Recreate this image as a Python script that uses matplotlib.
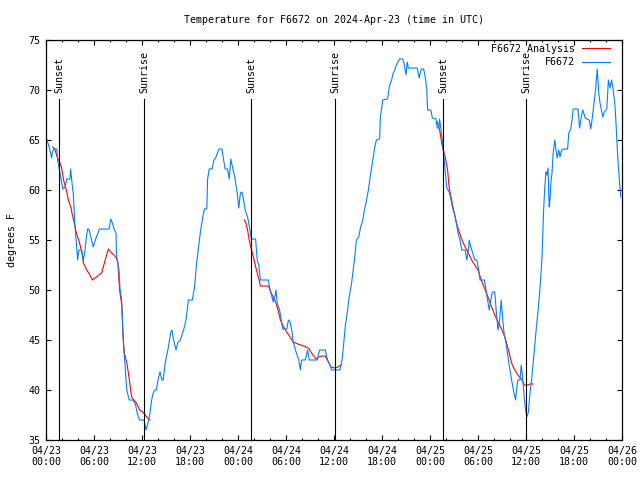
import matplotlib
matplotlib.use("Agg")
import matplotlib.pyplot as plt
from matplotlib.ticker import MultipleLocator

plt.rcParams['font.family'] = ['DejaVu Sans Mono']

# ---- data (hours since 2024-04-23 00:00 UTC, degrees F) ----
obs_hours = [0.08, 0.4, 0.7, 0.8, 1.0, 1.35, 1.45, 1.75, 1.96, 2.1, 2.4, 2.6, 3.0, 3.08, 3.25, 3.4, 3.5, 3.6,
             3.7, 3.8, 3.96, 4.1, 4.45, 4.67, 4.85, 5.0, 5.2, 5.35, 5.7, 5.9, 6.25, 6.5, 6.67, 7.9, 8.1, 8.3,
             8.5, 8.75, 8.8, 8.95, 9.1, 9.25, 9.45, 9.7, 9.9, 10.0, 10.1, 10.4, 10.9, 11.2, 11.4, 11.7, 12.25,
             12.5, 12.75, 13.0, 13.2, 13.4, 13.6, 13.8, 14.0, 14.25, 14.5, 14.65, 14.9, 15.3, 15.6, 15.75,
             15.95, 16.25, 16.5, 16.8, 17.2, 17.5, 17.8, 18.3, 18.6, 18.8, 19.1, 19.3, 19.6, 19.8, 20.1,
             20.2, 20.4, 20.75, 21.0, 21.25, 21.6, 22.0, 22.2, 22.4, 22.7, 22.9, 23.1, 23.3, 23.6, 23.9,
             24.1, 24.3, 24.5, 24.7, 24.9, 25.2, 25.5, 25.66, 26.2, 26.4, 26.6, 26.8, 27.8, 28.0, 28.25,
             28.4, 28.6, 28.75, 28.9, 29.2, 29.4, 29.6, 30.1, 30.3, 30.5, 30.7, 30.9, 31.3, 31.6, 31.8,
             31.95, 32.4, 32.7, 32.9, 33.9, 34.2, 34.9, 35.2, 35.5, 35.7, 36.75, 37.0, 37.2, 37.4, 37.7,
             37.9, 38.2, 38.4, 38.6, 38.8, 39.1, 39.3, 39.6, 39.8, 40.0, 40.3, 40.5, 40.7, 40.9, 41.1,
             41.3, 41.7, 41.8, 42.1, 42.7, 42.9, 43.2, 43.4, 43.6, 43.8, 44.2, 44.6, 44.75, 45.0, 45.15,
             45.3, 46.4, 46.65, 46.9, 47.2, 47.4, 47.6, 47.7, 48.1, 48.3, 48.75, 48.9, 49.1, 49.2, 49.5,
             49.7, 49.9, 50.1, 50.4, 50.6, 50.8, 51.1, 51.3, 51.5, 51.75, 51.96, 52.4, 52.6, 52.8, 52.9,
             53.1, 53.3, 53.6, 53.85, 54.1, 54.25, 54.8, 55.0, 55.2, 55.4, 55.6, 55.8, 56.1, 56.3, 56.5,
             56.7, 56.9, 57.1, 57.25, 57.5, 57.8, 58.0, 58.2, 58.5, 58.7, 58.85, 59.0, 59.25, 59.4, 59.55,
             59.7, 59.9, 60.1, 60.3, 60.5, 60.7, 60.9, 61.1, 61.3, 61.5, 61.7, 61.85, 62.0, 62.1, 62.2,
             62.35, 62.5, 62.6, 62.75, 62.9, 63.0, 63.1, 63.25, 63.4, 63.6, 63.75, 63.9, 64.1, 64.25,
             64.45, 64.7, 65.2, 65.35, 65.6, 65.75, 65.9, 66.5, 66.7, 66.9, 67.1, 67.4, 67.9, 68.1, 68.3,
             68.5, 68.7, 68.9, 69.1, 69.25, 69.6, 69.8, 70.1, 70.3, 70.5, 70.7, 70.85, 71.1, 71.25, 71.4,
             71.55, 71.7, 71.85]
obs_temps = [65.1, 64.3, 63.2, 63.8, 64.1, 64.1, 63.0, 61.7, 60.7, 60.1, 60.3, 61.1, 61.1, 62.1, 60.7, 59.7,
             58.3, 56.7, 55.7, 54.7, 53.0, 54.0, 54.0, 53.0, 53.8, 55.0, 56.1, 56.1, 55.0, 54.3, 55.2, 55.7,
             56.1, 56.1, 57.1, 56.7, 56.1, 55.7, 53.7, 52.7, 52.2, 50.2, 49.0, 44.3, 42.3, 41.0, 40.0, 39.0,
             39.0, 38.5, 37.7, 37.0, 37.0, 36.0, 36.7, 37.7, 39.0, 39.7, 40.0, 40.0, 41.0, 41.8, 41.0, 41.0,
             42.7, 44.3, 45.8, 46.0, 45.0, 44.0, 44.8, 45.0, 46.0, 47.0, 49.0, 49.0, 50.5, 52.5, 54.5, 55.8,
             57.3, 58.1, 58.1, 61.1, 62.1, 62.1, 63.0, 63.3, 64.1, 64.1, 63.0, 62.1, 62.1, 61.1, 63.1, 62.3,
             61.3, 59.7, 58.2, 59.7, 59.8, 59.0, 58.0, 57.3, 56.0, 55.1, 55.1, 53.0, 52.5, 51.0, 51.0, 50.0,
             49.3, 48.8, 49.3, 50.0, 48.7, 48.0, 47.0, 46.1, 46.1, 47.0, 46.8, 46.1, 44.8, 43.7, 43.0, 42.0,
             43.0, 43.0, 44.0, 43.0, 43.0, 44.0, 44.0, 43.0, 42.5, 42.0, 42.0, 43.0, 44.5, 46.3, 48.0, 49.3,
             50.7, 52.0, 53.3, 55.0, 55.3, 56.2, 57.0, 58.0, 58.7, 60.0, 61.2, 62.2, 63.3, 64.3, 65.0, 65.1,
             67.3, 69.0, 69.1, 70.3, 71.0, 71.7, 72.0, 72.5, 73.1, 73.1, 72.7, 71.5, 72.8, 72.2, 72.2, 71.2,
             72.1, 72.1, 71.3, 70.0, 68.0, 68.0, 67.2, 67.1, 66.2, 66.2, 67.1, 65.3, 63.7, 61.8, 60.2, 59.8,
             59.2, 58.3, 57.5, 56.7, 55.7, 55.0, 54.0, 54.0, 53.0, 54.0, 55.0, 54.3, 53.8, 53.0, 53.0, 52.0,
             51.0, 51.0, 50.0, 49.0, 48.0, 49.0, 49.8, 49.8, 47.7, 46.0, 47.0, 49.0, 47.0, 45.7, 44.7, 43.0,
             42.0, 41.0, 39.7, 39.0, 40.3, 41.0, 41.0, 42.5, 41.5, 40.0, 38.3, 37.3, 37.8, 39.7, 41.0, 42.7,
             44.5, 46.3, 47.8, 49.7, 51.3, 53.3, 55.8, 58.0, 60.3, 61.8, 61.5, 62.2, 58.3, 59.0, 60.7, 61.7,
             63.7, 65.0, 64.0, 63.2, 64.0, 63.3, 64.0, 64.1, 64.1, 65.7, 66.1, 67.0, 68.1, 68.1, 66.2, 67.2,
             68.0, 67.2, 67.0, 66.1, 67.3, 68.7, 70.0, 72.1, 69.7, 68.7, 67.3, 67.8, 68.1, 71.0, 70.2, 71.0,
             70.3, 68.7, 66.7, 64.3, 62.3, 60.7, 59.3]

ana1_hours = [0.83, 1.1, 1.4, 1.75, 1.95, 2.2, 2.6, 2.8, 3.1, 3.3, 3.5, 3.8, 4.2, 4.5, 4.67, 5.1, 5.5, 5.8,
              6.3, 6.95, 7.4, 7.8, 8.1, 8.5, 8.8, 9.0, 9.1, 9.2, 9.5, 9.6, 9.8, 10.1, 10.3, 10.5, 10.7,
              11.0, 11.3, 11.7, 12.1, 12.4, 12.7, 13.0]
ana1_temps = [64.3, 64.1, 63.3, 62.7, 62.2, 61.0, 59.8, 59.0, 58.3, 57.5, 56.8, 55.7, 54.7, 53.7, 52.7, 52.0,
              51.5, 51.0, 51.3, 51.7, 53.0, 54.1, 53.8, 53.5, 53.2, 52.7, 51.2, 50.0, 48.3, 45.7, 43.7,
              42.7, 41.7, 40.5, 39.3, 39.0, 38.7, 38.0, 37.8, 37.5, 37.2, 37.0]
ana2_hours = [24.8, 25.0, 25.2, 25.4, 25.6, 25.8, 26.1, 26.4, 26.65, 26.8, 27.8, 28.1, 28.4, 28.75, 29.0,
              29.3, 29.7, 30.1, 30.5, 30.9, 31.5, 32.2, 32.8, 33.2, 33.75, 34.1, 34.5, 34.9, 35.3, 35.6,
              36.1, 36.5, 36.9]
ana2_temps = [57.0, 56.7, 56.0, 55.0, 54.3, 53.7, 52.7, 51.7, 51.0, 50.4, 50.4, 49.8, 49.3, 48.7, 48.0,
              47.0, 46.3, 45.8, 45.3, 44.8, 44.6, 44.4, 44.2, 43.7, 43.1, 43.3, 43.4, 43.4, 42.8, 42.3,
              42.2, 42.3, 42.5]
ana3_hours = [48.9, 49.2, 49.5, 49.9, 50.2, 50.4, 50.7, 51.0, 51.3, 51.7, 52.0, 52.4, 52.8, 53.2, 53.6,
              54.0, 54.5, 54.9, 55.3, 55.7, 56.1, 56.5, 57.0, 57.4, 57.8, 58.2, 58.6, 59.0, 59.5, 59.8,
              60.3, 60.5, 60.9]
ana3_temps = [66.8, 66.0, 64.5, 63.3, 62.0, 60.2, 59.0, 57.8, 56.7, 55.7, 55.0, 54.3, 53.7, 53.0, 52.5,
              52.0, 50.8, 50.0, 49.2, 48.3, 47.5, 46.8, 46.0, 45.2, 44.0, 42.7, 42.0, 41.5, 41.0, 40.5,
              40.5, 40.6, 40.6]

sun_hours = [1.67, 12.25, 25.66, 36.16, 49.66, 60.04]
sun_labels = ['Sunset', 'Sunrise', 'Sunset', 'Sunrise', 'Sunset', 'Sunrise']

xtick_hours = [0, 6, 12, 18, 24, 30, 36, 42, 48, 54, 60, 66, 72]
xtick_labels = ['04/23\n00:00', '04/23\n06:00', '04/23\n12:00', '04/23\n18:00',
                '04/24\n00:00', '04/24\n06:00', '04/24\n12:00', '04/24\n18:00',
                '04/25\n00:00', '04/25\n06:00', '04/25\n12:00', '04/25\n18:00',
                '04/26\n00:00']

RED = '#ff0000'
BLUE = '#0080ff'
FS = 7.2
LW = 0.8

fig = plt.figure(figsize=(6.4, 4.8), dpi=100)
ax = fig.add_axes([46/640, 1-440/480, 576/640, 400/480])

ax.plot(ana1_hours, ana1_temps, color=RED, lw=LW, label='F6672 Analysis')
ax.plot(ana2_hours, ana2_temps, color=RED, lw=LW)
ax.plot(ana3_hours, ana3_temps, color=RED, lw=LW)
ax.plot(obs_hours, obs_temps, color=BLUE, lw=LW, label='F6672')

for h, lab in zip(sun_hours, sun_labels):
    ax.plot([h, h], [35, 69.1], color='black', lw=LW)
    ax.text(h, 69.7, lab, rotation=90, ha='center', va='bottom', fontsize=FS)

ax.set_xlim(0, 72)
ax.set_ylim(35, 75)
ax.set_xticks(xtick_hours)
ax.set_xticklabels(xtick_labels)
ax.xaxis.set_minor_locator(MultipleLocator(2))
ax.set_yticks(range(35, 76, 5))
ax.tick_params(which='major', direction='in', length=3.3, width=0.8, top=True, right=True,
               labelsize=FS, pad=4)
ax.tick_params(which='minor', direction='in', length=1.6, width=0.8, top=True, right=True)
for s in ax.spines.values():
    s.set_linewidth(0.9)

ax.set_ylabel('degrees F', fontsize=FS, labelpad=8)
ax.set_title('Temperature for F6672 on 2024-Apr-23 (time in UTC)', fontsize=FS, pad=12)

leg = ax.legend(loc='upper right', bbox_to_anchor=(0.986, 1.0), fontsize=FS, frameon=False,
                markerfirst=False, handlelength=2.8, handletextpad=0.7, borderaxespad=0.0,
                labelspacing=0.35)
for t in leg.get_texts():
    t.set_ha('right')

fig.savefig('out.png', dpi=100)
